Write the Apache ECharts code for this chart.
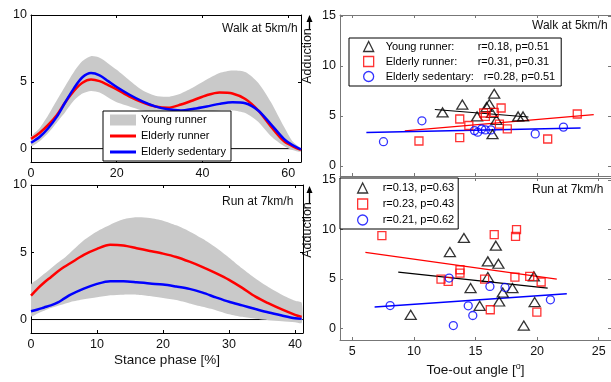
<!DOCTYPE html>
<html>
<head>
<meta charset="utf-8">
<script src="https://cdn.jsdelivr.net/npm/echarts@6/dist/echarts.min.js"></script>
<style>
  html, body { margin: 0; padding: 0; background: #fff; }
  #chart { width: 611px; height: 382px; }
</style>
</head>
<body>
<div id="chart"></div>
<script>
// --- stance phase curves, walk at 5 km/h ---
const walkX = [0, 2, 4, 6, 8, 10, 12, 14, 16, 18, 20, 23, 26, 29, 32, 35, 38, 41, 44, 47, 50, 53, 56, 59, 61, 63];
const walkYoungHi = [0.87, 1.53, 2.5, 3.6, 4.68, 5.73, 6.55, 6.92, 6.8, 6.38, 5.9, 5.1, 4.37, 3.96, 3.88, 4.13, 4.61, 5.17, 5.66, 5.85, 5.73, 4.93, 3.47, 1.65, 0.56, 0];
const walkYoungLo = [0.19, 0.56, 1.17, 1.94, 2.74, 3.6, 4.13, 4.32, 4.2, 3.83, 3.47, 3.16, 2.86, 2.74, 2.62, 2.62, 2.69, 2.79, 2.86, 2.86, 2.67, 2.01, 0.92, 0.19, -0.1, -0.24];
const walkElderly = [0.73, 1.17, 1.77, 2.5, 3.47, 4.32, 4.93, 5.17, 5.05, 4.76, 4.44, 3.9, 3.47, 3.16, 3.06, 3.3, 3.64, 4.0, 4.2, 4.13, 3.71, 2.86, 1.65, 0.56, 0.19, -0.1];
const walkSedentary = [0.44, 0.87, 1.53, 2.38, 3.47, 4.51, 5.34, 5.66, 5.49, 5.05, 4.61, 4.03, 3.54, 3.16, 2.94, 2.86, 2.99, 3.16, 3.35, 3.47, 3.4, 2.86, 1.82, 0.73, 0.27, -0.05];

// --- stance phase curves, run at 7 km/h ---
const runX = [0, 1, 2, 3, 4, 5, 6, 8, 10, 12, 14, 16, 18, 20, 22, 24, 26, 28, 30, 32, 34, 36, 38, 40, 41];
const runYoungHi = [2.6, 3.0, 3.4, 3.8, 4.2, 4.55, 5.0, 5.9, 6.55, 7.05, 7.45, 7.6, 7.55, 7.35, 7.0, 6.55, 6.0, 5.35, 4.6, 3.8, 3.05, 2.4, 1.85, 1.4, 1.25];
const runYoungLo = [0.25, 0.45, 0.65, 0.85, 1.0, 1.15, 1.3, 1.5, 1.65, 1.8, 1.85, 1.85, 1.75, 1.6, 1.45, 1.2, 0.95, 0.7, 0.4, 0.2, 0.05, -0.05, -0.12, -0.2, -0.25];
const runElderly = [1.78, 2.3, 2.75, 3.15, 3.55, 3.9, 4.2, 4.8, 5.25, 5.55, 5.5, 5.3, 5.1, 4.9, 4.65, 4.3, 3.9, 3.45, 2.95, 2.35, 1.7, 1.2, 0.75, 0.35, 0.2];
const runSedentary = [0.62, 0.75, 0.9, 1.05, 1.25, 1.55, 1.85, 2.3, 2.65, 2.85, 2.85, 2.78, 2.68, 2.6, 2.45, 2.28, 2.0, 1.65, 1.32, 1.05, 0.78, 0.52, 0.3, 0.1, 0.05];

const walkZero = [[0, 0], [63, 0]];
const runZero = [[0, 0], [41.2, 0]];

// --- toe-out angle [deg] vs adduction, walk ---
const walkYoungPts = [[12.33, 5.36], [13.93, 6.14], [16.52, 7.23], [16.12, 6.2], [15.13, 4.96], [16.33, 5.3], [16.38, 3.18], [18.46, 4.96], [18.86, 4.96], [15.9, 5.9], [16.7, 4.6]];
const walkElderlyPts = [[10.41, 2.5], [13.72, 4.7], [13.72, 2.83], [14.46, 4.05], [15.66, 5.3], [15.8, 4.96], [16.52, 5.36], [17.08, 5.8], [16.94, 4.19], [17.58, 3.71], [20.86, 2.7], [23.26, 5.2]];
const walkSedentaryPts = [[7.53, 2.43], [10.65, 4.52], [14.92, 3.54], [15.18, 3.38], [15.8, 3.61], [16.25, 3.61], [19.85, 3.21], [22.14, 3.89], [15.5, 3.7]];
const walkYoungFit = [[11.7, 5.65], [19.3, 4.9]];
const walkElderlyFit = [[9.26, 3.51], [24.6, 5.13]];
const walkSedentaryFit = [[6.14, 3.34], [23.53, 3.79]];

// --- toe-out angle [deg] vs adduction, run ---
const runYoungPts = [[9.74, 1.35], [12.92, 7.7], [14.06, 9.13], [14.6, 4.06], [15.34, 2.26], [16.0, 6.76], [16.0, 5.17], [16.65, 8.35], [16.86, 6.52], [16.92, 2.7], [17.21, 3.61], [18.0, 4.06], [18.92, 0.26], [19.8, 2.64], [19.74, 5.24]];
const runElderlyPts = [[7.4, 9.36], [16.52, 9.46], [18.33, 9.97], [18.25, 9.29], [13.74, 5.91], [13.74, 5.58], [12.2, 4.97], [12.78, 4.73], [15.74, 4.97], [16.2, 1.86], [18.2, 5.17], [19.4, 5.24], [20.33, 4.67], [19.98, 1.62]];
const runSedentaryPts = [[8.07, 2.29], [12.86, 5.07], [13.2, 0.26], [14.41, 2.26], [14.78, 1.28], [16.17, 4.22], [17.4, 4.12], [21.08, 2.87]];
const runYoungFit = [[8.73, 5.68], [20.86, 4.06]];
const runElderlyFit = [[6.06, 7.67], [21.6, 4.97]];
const runSedentaryFit = [[6.81, 2.13], [22.41, 3.48]];

const walkStats = { wYoung: ['Young runner:', 'r=0.18, p=0.51'], wElderly: ['Elderly runner:', 'r=0.31, p=0.31'], wSed: ['Elderly sedentary:', 'r=0.28, p=0.51'] };
const runStats = { rYoung: 'r=0.13, p=0.63', rElderly: 'r=0.23, p=0.43', rSed: 'r=0.21, p=0.62' };

const FONT = 'Liberation Sans';
const GREY = '#c9c9c9';
const RED = '#ff0000';
const BLUE = '#0000ff';
const LINE_ICON = 'path://M0,0L26,0L26,3L0,3Z';

const zip = (xs, ys) => xs.map((x, i) => [x, ys[i]]);

function xAx(gridIndex, min, max, ticks, pos, showLabel, lineColor, extra) {
  return Object.assign({
    type: 'value', gridIndex, min, max, position: pos,
    axisLine: { show: true, onZero: false, lineStyle: { color: lineColor, width: 1 } },
    axisTick: { show: true, inside: true, length: 3, customValues: ticks, lineStyle: { color: lineColor } },
    axisLabel: { show: showLabel, customValues: ticks, margin: 5, fontFamily: FONT, fontSize: 12.5, color: '#111' },
    splitLine: { show: false }
  }, extra || {});
}
function yAx(gridIndex, min, max, ticks, pos, showLabel, lineColor) {
  return {
    type: 'value', gridIndex, min, max, position: pos,
    axisLine: { show: true, onZero: false, lineStyle: { color: lineColor, width: 1 } },
    axisTick: { show: true, inside: true, length: 3, customValues: ticks, lineStyle: { color: lineColor } },
    axisLabel: { show: showLabel, customValues: ticks, margin: 4, fontFamily: FONT, fontSize: 12.5, color: '#111' },
    splitLine: { show: false }
  };
}

// grey +-SD band as one polygon: upper edge forward, lower edge back
function band(g, name, xs, hi, lo) {
  return {
    type: 'custom', name, xAxisIndex: 2 * g, yAxisIndex: 2 * g, silent: true, z: 2,
    itemStyle: { color: GREY },
    data: xs.map((x, i) => [x, hi[i], lo[i]]),
    encode: { x: 0, y: [1, 2] },
    clip: true,
    renderItem: (params, api) => {
      if (params.dataIndex !== 0) return null;
      const top = xs.map((x, i) => api.coord([x, hi[i]]));
      const bot = xs.map((x, i) => api.coord([x, lo[i]])).reverse();
      return { type: 'polygon', shape: { points: top.concat(bot), smooth: 0.25 }, style: { fill: GREY } };
    }
  };
}

// g = grid index; bottom/left axes of grid g are at index 2g
function curves(g, xs, hi, lo, elderly, sedentary, zero, names) {
  const ai = 2 * g;
  const base = { type: 'line', xAxisIndex: ai, yAxisIndex: ai, symbol: 'none', smooth: 0.3, silent: true };
  return [
    Object.assign({}, base, { name: names[0], data: zero, smooth: false, itemStyle: { color: '#000' }, lineStyle: { color: '#000', width: 1 }, z: 1 }),
    band(g, names[1], xs, hi, lo),
    Object.assign({}, base, { name: names[2], data: zip(xs, elderly), itemStyle: { color: RED }, lineStyle: { color: RED, width: 2.5 }, z: 3 }),
    Object.assign({}, base, { name: names[3], data: zip(xs, sedentary), itemStyle: { color: BLUE }, lineStyle: { color: BLUE, width: 2.5 }, z: 3 })
  ];
}

function scatter(g, name, pts, symbol, size, color) {
  return { type: 'scatter', name, xAxisIndex: 2 * g, yAxisIndex: 2 * g, data: pts, symbol, symbolSize: size, silent: true, z: 4,
    itemStyle: { color: 'rgba(0,0,0,0)', borderColor: color, borderWidth: 1.3 } };
}
function fit(g, name, pts, color, w) {
  return { type: 'line', name, xAxisIndex: 2 * g, yAxisIndex: 2 * g, data: pts, symbol: 'none', silent: true, z: 3,
    itemStyle: { color }, lineStyle: { color, width: w } };
}

const chart = echarts.init(document.getElementById('chart'), null, { renderer: 'canvas' });

const titleStyle = { fontFamily: FONT, fontSize: 12, fontWeight: 'normal', color: '#111' };

const option = {
  animation: false,
  backgroundColor: '#fff',
  title: [
    { text: 'Walk at 5km/h', left: 222, top: 23, padding: 0, textStyle: titleStyle },
    { text: 'Run at 7km/h', left: 222, top: 196, padding: 0, textStyle: titleStyle },
    { text: 'Walk at 5km/h', left: 532, top: 20, padding: 0, textStyle: titleStyle },
    { text: 'Run at 7km/h', left: 532, top: 184, padding: 0, textStyle: titleStyle }
  ],
  grid: [
    { left: 31, top: 15, width: 270, height: 147 },
    { left: 31, top: 185, width: 272, height: 148 },
    { left: 340, top: 15, width: 275, height: 161 },
    { left: 340, top: 178, width: 275, height: 162 }
  ],
  xAxis: [
    xAx(0, 0, 63, [0, 20, 40, 60], 'bottom', true, '#000'),
    xAx(0, 0, 63, [0, 20, 40, 60], 'top', false, '#000'),
    xAx(1, 0, 41.2, [0, 10, 20, 30, 40], 'bottom', true, '#000', {
      name: 'Stance phase [%]', nameLocation: 'middle', nameGap: 20,
      nameTextStyle: { fontFamily: FONT, fontSize: 13.5, color: '#111', verticalAlign: 'top' }
    }),
    xAx(1, 0, 41.2, [0, 10, 20, 30, 40], 'top', false, '#000'),
    xAx(2, 4, 26, [5, 10, 15, 20, 25], 'bottom', false, '#777'),
    xAx(2, 4, 26, [5, 10, 15, 20, 25], 'top', false, '#777'),
    xAx(3, 4, 26, [5, 10, 15, 20, 25], 'bottom', true, '#777', {
      name: '{a|Toe-out angle [}{s|o}{a|]}', nameLocation: 'middle', nameGap: 22,
      nameTextStyle: { verticalAlign: 'top', rich: {
        a: { fontFamily: FONT, fontSize: 13.5, color: '#111', lineHeight: 16 },
        s: { fontFamily: FONT, fontSize: 9, color: '#111', verticalAlign: 'top', lineHeight: 10 }
      } }
    }),
    xAx(3, 4, 26, [5, 10, 15, 20, 25], 'top', false, '#777')
  ],
  yAxis: [
    yAx(0, -1, 10, [0, 5, 10], 'left', true, '#000'),
    yAx(0, -1, 10, [0, 5, 10], 'right', false, '#000'),
    yAx(1, -1, 10, [0, 5, 10], 'left', true, '#000'),
    yAx(1, -1, 10, [0, 5, 10], 'right', false, '#000'),
    yAx(2, -1, 15.1, [0, 5, 10, 15], 'left', true, '#777'),
    yAx(2, -1, 15.1, [0, 5, 10, 15], 'right', false, '#777'),
    yAx(3, -1.2, 15.2, [0, 5, 10, 15], 'left', true, '#777'),
    yAx(3, -1.2, 15.2, [0, 5, 10, 15], 'right', false, '#777')
  ],
  legend: [
    {
      data: [
        { name: 'Young runner', icon: 'rect' },
        { name: 'Elderly runner', icon: LINE_ICON },
        { name: 'Elderly sedentary', icon: LINE_ICON }
      ],
      orient: 'vertical', left: 103, top: 111, padding: [1, 5, 1, 7], itemGap: 0,
      itemWidth: 26, itemHeight: 11, selectedMode: false, symbolKeepAspect: true,
      backgroundColor: '#fff', borderColor: '#000', borderWidth: 1, borderRadius: 0,
      textStyle: { fontFamily: FONT, fontSize: 11, color: '#000', lineHeight: 16 }
    },
    {
      data: ['wYoung', 'wElderly', 'wSed'],
      orient: 'vertical', left: 349, top: 38, padding: [1, 6, 2, 14], itemGap: 0,
      itemWidth: 10, itemHeight: 10, selectedMode: false,
      backgroundColor: '#fff', borderColor: '#000', borderWidth: 1, borderRadius: 0,
      itemStyle: { borderWidth: 1.3 },
      formatter: name => {
        const s = walkStats[name];
        return (name === 'wSed' ? '{m|' : '{n|') + s[0] + '}{v|' + s[1] + '}';
      },
      textStyle: { fontFamily: FONT, fontSize: 11, color: '#000', lineHeight: 15, rich: {
        n: { fontFamily: FONT, fontSize: 11, width: 92, lineHeight: 15, padding: [0, 0, 0, 7] },
        m: { fontFamily: FONT, fontSize: 11, width: 98, lineHeight: 15, padding: [0, 0, 0, 7] },
        v: { fontFamily: FONT, fontSize: 11, lineHeight: 15 }
      } }
    },
    {
      data: ['rYoung', 'rElderly', 'rSed'],
      orient: 'vertical', left: 340, top: 178, padding: [2, 4, 1, 17], itemGap: 0,
      itemWidth: 10, itemHeight: 10, selectedMode: false,
      backgroundColor: '#fff', borderColor: '#000', borderWidth: 1, borderRadius: 0,
      itemStyle: { borderWidth: 1.3 },
      formatter: name => '{v|' + runStats[name] + '}',
      textStyle: { fontFamily: FONT, fontSize: 11, color: '#000', lineHeight: 16, rich: {
        v: { fontFamily: FONT, fontSize: 11, lineHeight: 16, padding: [0, 0, 0, 10] }
      } }
    }
  ],
  graphic: [0, 1].map(k => {
    const cy = k === 0 ? 56 : 230;
    const top = k === 0 ? 15 : 186;
    return {
      type: 'group', silent: true,
      children: [
        { type: 'text', x: 308, y: cy, rotation: Math.PI / 2,
          style: { text: 'Adduction', fontFamily: FONT, fontSize: 12.5, fill: '#111', align: 'center', verticalAlign: 'middle' } },
        { type: 'line', shape: { x1: 309.5, y1: cy - 27, x2: 309.5, y2: top + 5 }, style: { stroke: '#000', lineWidth: 1.3 } },
        { type: 'polygon', shape: { points: [[306.5, top + 7], [312.5, top + 7], [309.5, top]] }, style: { fill: '#000' } }
      ]
    };
  }),
  series: [].concat(
    curves(0, walkX, walkYoungHi, walkYoungLo, walkElderly, walkSedentary, walkZero,
      ['walkZero', 'Young runner', 'Elderly runner', 'Elderly sedentary']),
    curves(1, runX, runYoungHi, runYoungLo, runElderly, runSedentary, runZero,
      ['runZero', 'runYoung', 'runElderly', 'runSed']),
    [
      fit(2, 'wYoungFit', walkYoungFit, '#000', 1.2),
      fit(2, 'wElderlyFit', walkElderlyFit, RED, 1.2),
      fit(2, 'wSedFit', walkSedentaryFit, BLUE, 1.5),
      scatter(2, 'wYoung', walkYoungPts, 'triangle', [11, 9], '#000'),
      scatter(2, 'wElderly', walkElderlyPts, 'rect', 8, RED),
      scatter(2, 'wSed', walkSedentaryPts, 'circle', 8, BLUE),
      fit(3, 'rYoungFit', runYoungFit, '#000', 1.2),
      fit(3, 'rElderlyFit', runElderlyFit, RED, 1.2),
      fit(3, 'rSedFit', runSedentaryFit, BLUE, 1.5),
      scatter(3, 'rYoung', runYoungPts, 'triangle', [11, 9], '#000'),
      scatter(3, 'rElderly', runElderlyPts, 'rect', 8, RED),
      scatter(3, 'rSed', runSedentaryPts, 'circle', 8, BLUE)
    ]
  )
};

chart.setOption(option);
</script>
</body>
</html>
